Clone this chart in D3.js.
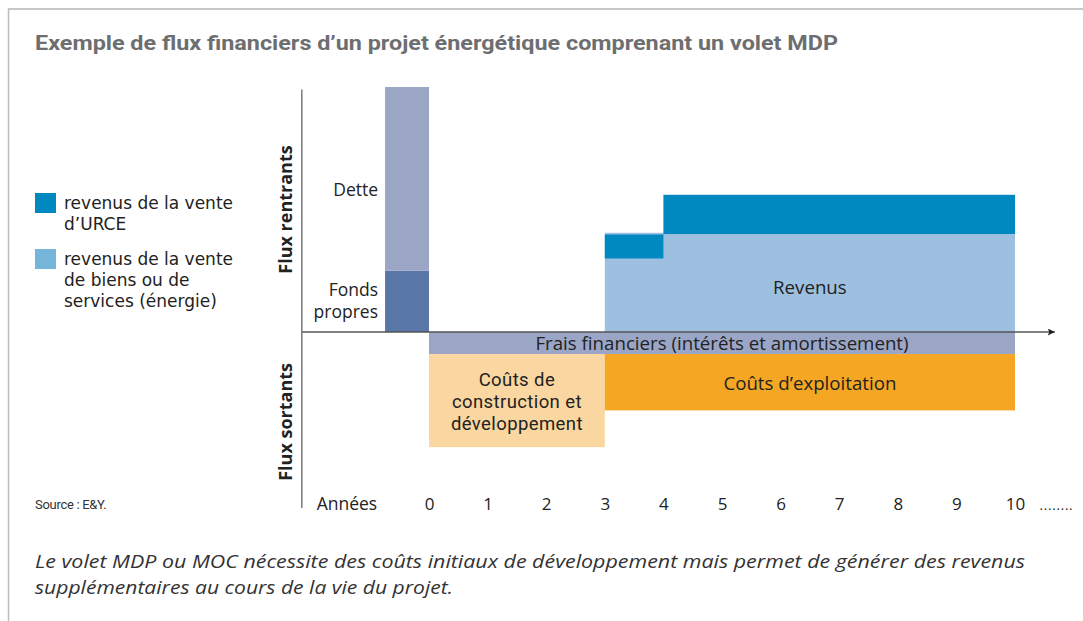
<!DOCTYPE html>
<html>
<head>
<meta charset="utf-8">
<script src="https://cdn.jsdelivr.net/npm/d3@7"></script>
<style>
  body { margin: 0; background: #fff; }
  svg { display: block; }
</style>
</head>
<body>
<svg id="chart"></svg>
<script>
// données du schéma (unités arbitraires, années en abscisse)
const annees = [0, 1, 2, 3, 4, 5, 6, 7, 8, 9, 10];
const blocs = ["Fonds propres", "Dette", "Revenus énergie", "URCE an 3", "URCE", "Frais financiers", "Coûts de construction", "Coûts d'exploitation"];
const debut = [-0.75, -0.75, 3, 3, 4, 0, 0, 3];
const fin = [0, 0, 10, 4, 10, 10, 3, 10];
const bas = [0, 2.5, 0, 3.0, 4.0, 0, -0.9, -0.9];
const haut = [2.5, 10, 4.05, 3.98, 5.6, -0.9, -4.7, -3.2];
const couleurs = ["#5877a8", "#9ba6c7", "#9dc0e0", "#0088c0", "#0088c0", "#9ba6c7", "#fad6a0", "#f5a623"];

const legendeLabels = [["revenus de la vente", "d’URCE"], ["revenus de la vente", "de biens ou de", "services (énergie)"]];
const legendeCouleurs = ["#0088c0", "#76b5da"];

const W = 1083, H = 621;
const svg = d3.select("#chart").attr("width", W).attr("height", H);

// cadre gris
svg.append("line").attr("x1", 8).attr("x2", W).attr("y1", 9).attr("y2", 9)
    .attr("stroke", "#c8c8c8").attr("stroke-width", 2);
svg.append("line").attr("x1", 8.5).attr("x2", 8.5).attr("y1", 9).attr("y2", H)
    .attr("stroke", "#bdbdbd").attr("stroke-width", 1.5);

// titre
svg.append("text").attr("x", 35).attr("y", 50)
    .attr("textLength", 803).attr("lengthAdjust", "spacingAndGlyphs")
    .style("font-family", "Roboto, sans-serif").style("font-weight", "bold")
    .style("font-size", "20px").style("fill", "#6d6e70")
    .text("Exemple de flux financiers d’un projet énergétique comprenant un volet MDP");

// échelles
const x = d3.scaleLinear().domain([0, 10]).range([429, 1015]);
const y = d3.scaleLinear().domain([0, 10]).range([332, 87]);

const g = svg.append("g");

// blocs
blocs.forEach((b, i) => {
    g.append("rect")
        .attr("x", x(debut[i]))
        .attr("width", x(fin[i]) - x(debut[i]))
        .attr("y", y(Math.max(bas[i], haut[i])))
        .attr("height", Math.abs(y(bas[i]) - y(haut[i])))
        .attr("fill", couleurs[i]);
});

// axes
const defs = svg.append("defs");
defs.append("marker").attr("id", "fleche")
    .attr("viewBox", "0 0 10 10").attr("refX", 10).attr("refY", 5)
    .attr("markerWidth", 9).attr("markerHeight", 7).attr("markerUnits", "userSpaceOnUse")
    .attr("orient", "auto")
    .append("path").attr("d", "M0,0 L10,5 L0,10 L2,5 Z").attr("fill", "#222");

g.append("line")
    .attr("x1", x(-2.17)).attr("x2", x(10.68))
    .attr("y1", y(0)).attr("y2", y(0))
    .attr("stroke", "#555").attr("stroke-width", 1.3)
    .attr("marker-end", "url(#fleche)");

g.append("line")
    .attr("x1", x(-2.17)).attr("x2", x(-2.17))
    .attr("y1", y(9.9)).attr("y2", y(-7.18))
    .attr("stroke", "#666").attr("stroke-width", 1.3);

// axe des années
const axeX = d3.axisBottom(x).tickValues(annees).tickSize(0).tickFormat(d3.format("d"));
const axeG = g.append("g").attr("transform", `translate(0,${y(-7.18) - 13})`).call(axeX);
axeG.select(".domain").remove();
axeG.selectAll("text")
    .style("font-family", "'Open Sans', sans-serif").style("font-size", "17px")
    .style("fill", "#222");

const basTexte = y(-7.18) + 2;
g.append("text").attr("x", x(-1.4)).attr("y", basTexte)
    .attr("text-anchor", "middle")
    .style("font-family", "'Open Sans', sans-serif").style("font-size", "17.5px").style("fill", "#222")
    .text("Années");
g.append("text").attr("x", x(10.42)).attr("y", basTexte)
    .style("font-family", "'Open Sans', sans-serif").style("font-size", "13px").style("fill", "#222")
    .style("letter-spacing", "0.8px")
    .text("........");

// titres verticaux
const titresV = [["Flux rentrants", 5.0], ["Flux sortants", -3.67]];
titresV.forEach(t => {
    g.append("text")
        .attr("transform", `translate(${x(-2.17) - 10},${y(t[1])}) rotate(-90)`)
        .attr("text-anchor", "middle")
        .style("font-family", "'Open Sans', sans-serif").style("font-weight", "bold")
        .style("font-size", "18px").style("fill", "#222")
        .text(t[0]);
});

// étiquettes
const styleTxt = sel => sel.style("font-family", "'Open Sans', sans-serif")
    .style("font-size", "17.5px").style("fill", "#222");

g.append("text").attr("x", x(-0.87)).attr("y", y(5.55)).attr("text-anchor", "end")
    .call(styleTxt).text("Dette");
g.append("text").attr("x", x(-0.87)).attr("y", y(1.47)).attr("text-anchor", "end")
    .call(styleTxt).text("Fonds");
g.append("text").attr("x", x(-0.87)).attr("y", y(0.57)).attr("text-anchor", "end")
    .call(styleTxt).text("propres");

const styleBloc = sel => sel.style("font-family", "'Open Sans', sans-serif")
    .style("font-size", "18.7px").style("fill", "#222");

g.append("text").attr("x", x(6.5)).attr("y", y(1.55)).attr("text-anchor", "middle")
    .call(styleBloc).text("Revenus");
g.append("text").attr("x", x(5)).attr("y", y(-0.72)).attr("text-anchor", "middle")
    .call(styleBloc).text("Frais financiers (intérêts et amortissement)");
g.append("text").attr("x", x(6.5)).attr("y", y(-2.38)).attr("text-anchor", "middle")
    .call(styleBloc).text("Coûts d’exploitation");
["Coûts de", "construction et", "développement"].forEach((l, i) => {
    g.append("text").attr("x", x(1.5)).attr("y", y(-2.2) + i * 22).attr("text-anchor", "middle")
        .style("font-family", "Roboto, sans-serif").style("font-size", "18.5px")
        .style("letter-spacing", "0.4px").style("fill", "#222")
        .text(l);
});

// légende
const legY = [193, 249];
legendeLabels.forEach((lignes, i) => {
    svg.append("rect").attr("x", 35).attr("y", legY[i]).attr("width", 21).attr("height", 20)
        .attr("fill", legendeCouleurs[i]);
    lignes.forEach((l, j) => {
        svg.append("text").attr("x", 64).attr("y", legY[i] + 16 + j * 21)
            .style("font-family", "'DejaVu Sans', sans-serif").style("font-size", "17px")
            .style("fill", "#222").text(l);
    });
});

// source
svg.append("text").attr("x", 35).attr("y", 509)
    .style("font-family", "Roboto, sans-serif").style("font-size", "13px")
    .style("fill", "#333").style("letter-spacing", "-0.3px")
    .text("Source : E&Y.");

// légende du bas
const notes = ["Le volet MDP ou MOC nécessite des coûts initiaux de développement mais permet de générer des revenus",
 "supplémentaires au cours de la vie du projet."];
const notesLong = [990, 418];
notes.forEach((l, i) => {
    svg.append("text").attr("x", 35).attr("y", 568 + i * 26)
        .attr("textLength", notesLong[i]).attr("lengthAdjust", "spacingAndGlyphs")
        .style("font-family", "'Open Sans', sans-serif").style("font-style", "italic")
        .style("font-size", "19px").style("fill", "#333")
        .text(l);
});
</script>
</body>
</html>
